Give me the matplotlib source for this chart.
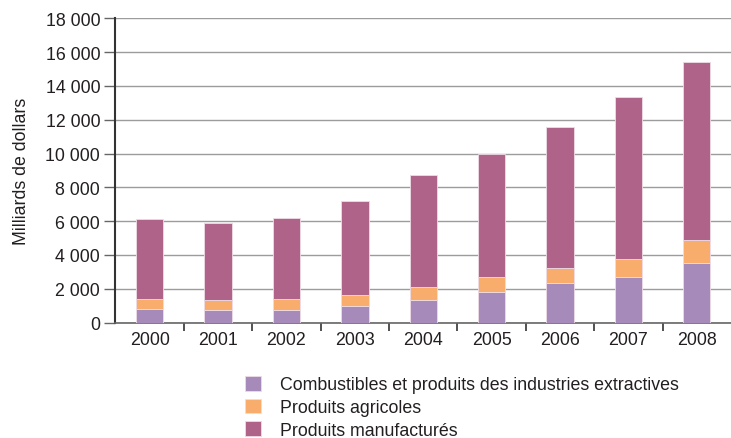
import matplotlib
matplotlib.use("Agg")
import matplotlib.pyplot as plt
import numpy as np
from matplotlib.ticker import FuncFormatter

plt.rcParams['font.family'] = ['Liberation Sans', 'DejaVu Sans']

# exportations mondiales par produit (milliards de dollars)
annees = ['2000', '2001', '2002', '2003', '2004', '2005', '2006', '2007', '2008']
combustibles = [830, 735, 735, 970, 1325, 1820, 2335, 2695, 3545]
agricoles = [555, 590, 650, 655, 775, 875, 910, 1070, 1365]
manufactures = [4715, 4555, 4795, 5565, 6650, 7265, 8300, 9565, 10495]

noms = ['Combustibles et produits des industries extractives',
        'Produits agricoles',
        'Produits manufacturés']
couleurs = ['#A68AB9', '#F8AD6D', '#B06389']

txt = '#231F20'
fs = 12.8

fig = plt.figure(figsize=(7.31, 4.39), dpi=100)
ax = fig.add_axes([0.158, 0.263, 0.842, 0.693])

x = np.arange(len(annees))
bas = np.zeros(len(annees))
barres = []
for vals, nom, c in zip([combustibles, agricoles, manufactures], noms, couleurs):
    b = ax.bar(x, vals, 0.4, bottom=bas, color=c, edgecolor='#EEDCE6',
               linewidth=0.6, label=nom, zorder=3)
    barres.append(b)
    bas = bas + np.array(vals)

ax.set_xlim(-0.5, len(annees) - 0.5)
ax.set_ylim(0, 18000)
ax.set_yticks(np.arange(0, 18001, 2000))
ax.yaxis.set_major_formatter(FuncFormatter(lambda v, p: f'{int(v):,}'.replace(',', ' ')))
ax.grid(axis='y', color='#9C9C9C', linewidth=1.0, zorder=0)

# ticks de catégorie entre les barres, étiquettes au centre
ax.set_xticks(x)
ax.set_xticklabels(annees)
ax.tick_params(axis='x', length=0, labelsize=fs, colors=txt, pad=6)
ax.set_xticks(np.arange(0.5, len(annees) - 0.5, 1), minor=True)
ax.tick_params(axis='x', which='minor', length=6, width=1.2, color='#333333')
ax.tick_params(axis='y', length=8, width=1.0, color='#666666', labelsize=fs,
               labelcolor=txt, pad=3)

for s in ['top', 'right']:
    ax.spines[s].set_visible(False)
ax.spines['left'].set_color('#333333')
ax.spines['left'].set_linewidth(1.5)
ax.spines['bottom'].set_color('#666666')
ax.spines['bottom'].set_linewidth(1.2)

ax.set_ylabel('Milliards de dollars', fontsize=fs, color=txt, labelpad=11)

fig.legend(handles=barres, loc='upper left', bbox_to_anchor=(0.325, 0.158),
           frameon=False, fontsize=fs, labelcolor=txt, handlelength=0.9,
           handleheight=0.9, handletextpad=1.1, labelspacing=0.3,
           borderaxespad=0)

fig.savefig('out.png', dpi=100)
